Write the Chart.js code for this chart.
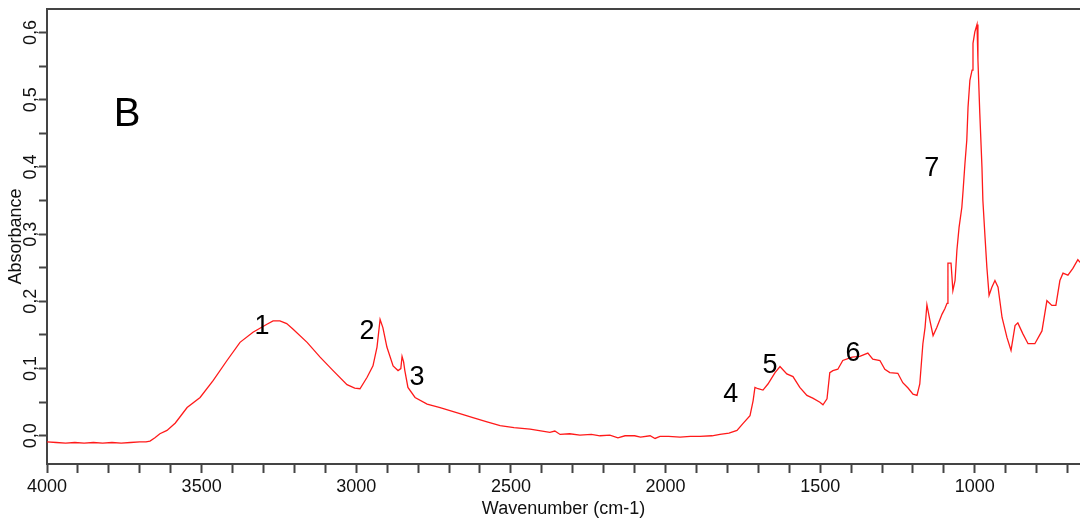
<!DOCTYPE html>
<html>
<head>
<meta charset="utf-8">
<script src="https://cdn.jsdelivr.net/npm/chart.js@4.4.0/dist/chart.umd.min.js"></script>
<style>
    html, body { margin: 0; padding: 0; background: #fff; }
    #wrap { width: 1080px; height: 522px; position: relative; }
</style>
</head>
<body>
<div id="wrap"><canvas id="irChart"></canvas></div>
<script>
// spectrum (cm-1, absorbance)
const wavenumbers = [
    4000, 3970, 3940, 3910, 3880, 3850, 3820, 3790, 3760, 3730, 3700, 3680, 3667, 3651, 3635, 3612, 3585,
    3547, 3505, 3463, 3418, 3376, 3334, 3289, 3269, 3247, 3225, 3205, 3159, 3117, 3075, 3030, 3005, 2988,
    2965, 2946, 2933, 2923, 2914, 2901, 2881, 2865, 2856, 2852, 2847, 2843, 2833, 2810, 2771, 2729, 2665,
    2623, 2580, 2535, 2490, 2438, 2374, 2358, 2341, 2310, 2277, 2240, 2212, 2180, 2154, 2131, 2100, 2081,
    2050, 2034, 2018, 1990, 1953, 1920, 1889, 1850, 1824, 1795, 1769, 1750, 1727, 1717, 1711, 1701, 1685,
    1669, 1646, 1630, 1608, 1588, 1566, 1543, 1524, 1501, 1491, 1478, 1469, 1459, 1443, 1427, 1397, 1372,
    1346, 1330, 1307, 1291, 1275, 1249, 1233, 1216, 1200, 1187, 1178, 1168, 1161, 1155, 1145, 1135, 1123,
    1106, 1097, 1090, 1087, 1077, 1071, 1064, 1058, 1051, 1042, 1038, 1032, 1026, 1022, 1016, 1009, 1006,
    1000, 993, 990, 984, 977, 974, 967, 961, 954, 945, 935, 925, 912, 896, 883, 870, 861, 845, 828, 806,
    783, 767, 751, 738, 725, 715, 699, 683, 667, 660
];
const absorbance = [
    -0.009, -0.010, -0.011, -0.010, -0.011, -0.010, -0.011, -0.010, -0.011, -0.010, -0.009, -0.009, -0.008, -0.003, 0.003, 0.008, 0.019,
    0.042, 0.057, 0.082, 0.112, 0.139, 0.154, 0.166, 0.171, 0.171, 0.167, 0.159, 0.139, 0.117, 0.097, 0.076, 0.071, 0.070,
    0.087, 0.104, 0.132, 0.173, 0.161, 0.132, 0.104, 0.097, 0.100, 0.118, 0.110, 0.097, 0.072, 0.057, 0.047, 0.042, 0.033,
    0.027, 0.021, 0.015, 0.012, 0.010, 0.005, 0.007, 0.002, 0.003, 0.001, 0.002, 0.000, 0.001, -0.003, 0.000, 0.000, -0.002,
    0.000, -0.004, -0.001, -0.001, -0.002, -0.001, -0.001, 0.000, 0.002, 0.004, 0.008, 0.018, 0.030, 0.052, 0.072, 0.070, 0.068,
    0.077, 0.094, 0.103, 0.092, 0.088, 0.072, 0.060, 0.056, 0.050, 0.046, 0.055, 0.094, 0.097, 0.099, 0.112, 0.117, 0.118,
    0.123, 0.114, 0.112, 0.099, 0.094, 0.093, 0.079, 0.071, 0.062, 0.060, 0.077, 0.137, 0.161, 0.195, 0.171, 0.149, 0.161,
    0.181, 0.189, 0.197, 0.257, 0.257, 0.216, 0.231, 0.276, 0.310, 0.340, 0.365, 0.405, 0.440, 0.489, 0.529, 0.544, 0.584,
    0.601, 0.612, 0.559, 0.480, 0.400, 0.350, 0.295, 0.250, 0.209, 0.221, 0.231, 0.221, 0.176, 0.146, 0.127, 0.164, 0.168, 0.152, 0.137, 0.137,
    0.156, 0.201, 0.194, 0.194, 0.231, 0.242, 0.239, 0.249, 0.262, 0.258
];

// peak numbers and panel letter
const peakLabels = ['1', '2', '3', '4', '5', '6', '7'];
const peakX = [3305, 2965, 2804, 1789, 1662, 1394, 1139];
const peakY = [0.162, 0.155, 0.086, 0.061, 0.104, 0.122, 0.398];
const panelLabel = 'B';
const panelX = 3741;
const panelY = 0.477;

const xRange = [660, 4000];
const yRange = [-0.042, 0.635];

const FONT = '"Liberation Sans", Arial, sans-serif';
const AXIS = '#444';

function isMultiple(v, step) {
    return Math.abs(Math.round(v / step) * step - v) < 1e-6;
}

// numbers + B + top frame line
const labelsPlugin = {
    id: 'labelsPlugin',
    afterDraw(chart) {
        const ctx = chart.ctx;
        const x = chart.scales.x;
        const y = chart.scales.y;
        const area = chart.chartArea;

        ctx.save();
        ctx.strokeStyle = AXIS;
        ctx.lineWidth = 2;
        ctx.beginPath();
        ctx.moveTo(area.left, area.top);
        ctx.lineTo(area.right, area.top);
        ctx.stroke();

        ctx.fillStyle = '#000';
        ctx.textAlign = 'center';
        ctx.textBaseline = 'middle';
        ctx.font = '27px ' + FONT;
        peakLabels.forEach(function (t, i) {
            ctx.fillText(t, x.getPixelForValue(peakX[i]), y.getPixelForValue(peakY[i]));
        });
        ctx.font = '40px ' + FONT;
        ctx.fillText(panelLabel, x.getPixelForValue(panelX), y.getPixelForValue(panelY));
        ctx.restore();
    }
};

const ctx = document.getElementById('irChart').getContext('2d');
new Chart(ctx, {
    type: 'line',
    data: {
        datasets: [{
            data: wavenumbers.map(function (w, i) { return {x: w, y: absorbance[i]}; }),
            borderColor: '#ff1a1a',
            borderWidth: 1.3,
            pointRadius: 0,
            tension: 0,
            fill: false
        }]
    },
    options: {
        responsive: true,
        maintainAspectRatio: false,
        animation: false,
        devicePixelRatio: 1,
        layout: {padding: {top: 9, right: 0, left: 0, bottom: 0}},
        plugins: {legend: {display: false}, tooltip: {enabled: false}},
        scales: {
            x: {
                type: 'linear',
                reverse: true,
                min: xRange[0],
                max: xRange[1],
                border: {color: AXIS, width: 2},
                grid: {drawOnChartArea: false, drawTicks: true, tickLength: 9, tickColor: AXIS, tickWidth: 2},
                ticks: {
                    stepSize: 100,
                    includeBounds: false,
                    autoSkip: false,
                    maxRotation: 0,
                    padding: 3,
                    color: '#111',
                    font: {family: FONT, size: 18},
                    callback: function (v) { return isMultiple(v, 500) ? String(v) : ''; }
                },
                title: {display: true, text: 'Wavenumber (cm-1)', color: '#111', font: {family: FONT, size: 18}, padding: {top: 0, bottom: 2}},
                afterFit: function (scale) { scale.height = 58; }
            },
            y: {
                min: yRange[0],
                max: yRange[1],
                border: {color: AXIS, width: 2},
                grid: {drawOnChartArea: false, drawTicks: true, tickLength: 8, tickColor: AXIS, tickWidth: 2},
                ticks: {
                    stepSize: 0.05,
                    includeBounds: false,
                    autoSkip: false,
                    minRotation: 90,
                    maxRotation: 90,
                    crossAlign: 'center',
                    padding: -5,
                    color: '#111',
                    font: {family: FONT, size: 18},
                    callback: function (v) { return isMultiple(v, 0.1) ? v.toFixed(1).replace('.', ',') : ''; }
                },
                title: {display: true, text: 'Absorbance', color: '#111', font: {family: FONT, size: 18}, padding: {top: 5, bottom: 0}},
                afterFit: function (scale) { scale.width = 47; }
            }
        }
    },
    plugins: [labelsPlugin]
});
</script>
</body>
</html>
